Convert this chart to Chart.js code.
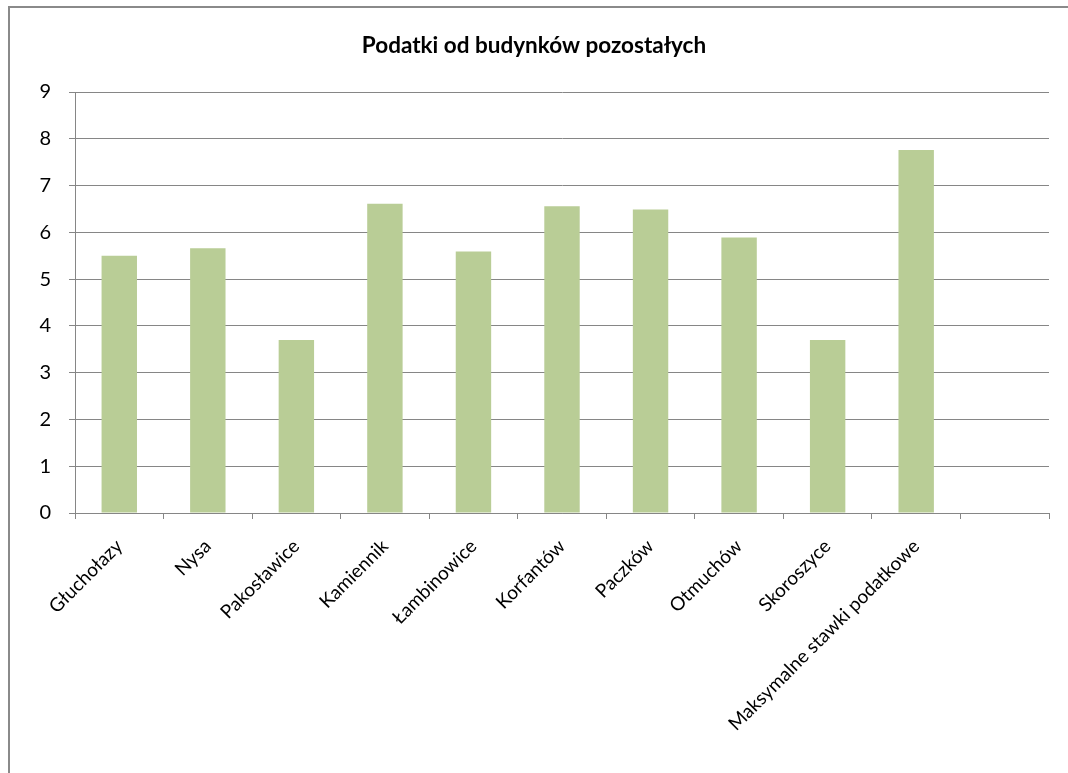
<!DOCTYPE html>
<html>
<head>
<meta charset="utf-8">
<script src="https://cdn.jsdelivr.net/npm/chart.js@4"></script>
<style>
  body { margin: 0; background: #fff; }
  #marco { position: absolute; left: 8px; top: 6px; width: 1070px; height: 800px; border-left: 2px solid #8a8a8a; border-top: 2px solid #8a8a8a; }
  #lienzo { position: absolute; left: 0; top: 0; }
</style>
</head>
<body>
<div id="marco"></div>
<canvas id="lienzo" width="1068" height="773"></canvas>
<script>
// datos
const categorias = ['Głuchołazy', 'Nysa', 'Pakosławice', 'Kamiennik', 'Łambinowice', 'Korfantów',
    'Paczków', 'Otmuchów', 'Skoroszyce', 'Maksymalne stawki podatkowe', ''];
const valores = [5.5, 5.66, 3.7, 6.61, 5.59, 6.56, 6.49, 5.89, 3.7, 7.76, null];
const ticksY = [0, 1, 2, 3, 4, 5, 6, 7, 8, 9];

const gris = '#868686';
const fuente = 'Lato, "Open Sans", sans-serif';

let ctx = document.getElementById('lienzo').getContext('2d');
let chart = new Chart(ctx, {
    type: 'bar',
    data: {
        labels: categorias,
        datasets: [{
            data: valores,
            backgroundColor: '#b9cd96',
            borderWidth: 0,
            categoryPercentage: 1.0,
            barPercentage: 0.4
        }]
    },
    options: {
        responsive: false,
        animation: false,
        // padding igual a los dos lados para que el titulo quede centrado en el lienzo
        layout: { padding: { left: 19, right: 19, top: 0, bottom: 0 } },
        plugins: {
            legend: { display: false },
            tooltip: { enabled: false },
            title: {
                display: true,
                text: 'Podatki od budynków pozostałych',
                color: '#000',
                font: { family: fuente, size: 22.5, weight: 'bold' },
                padding: { top: 32, bottom: 33 }
            }
        },
        scales: {
            x: {
                grid: { display: true, drawOnChartArea: false, offset: true, color: gris, lineWidth: 1, tickLength: 6 },
                border: { color: gris, width: 1 },
                ticks: {
                    color: '#000',
                    font: { family: fuente, size: 19 },
                    maxRotation: 45,
                    minRotation: 45,
                    autoSkip: false,
                    padding: 16
                },
                afterFit: (scale) => { scale.height = 260; }
            },
            y: {
                min: 0,
                max: 9,
                afterBuildTicks: (scale) => { scale.ticks = ticksY.map(v => ({ value: v })); },
                grid: { color: gris, lineWidth: 1, tickLength: 6 },
                border: { color: gris, width: 1 },
                ticks: {
                    color: '#000',
                    font: { family: fuente, size: 20 },
                    padding: 18
                },
                afterFit: (scale) => { scale.width = 56; }
            }
        }
    }
});
</script>
</body>
</html>
